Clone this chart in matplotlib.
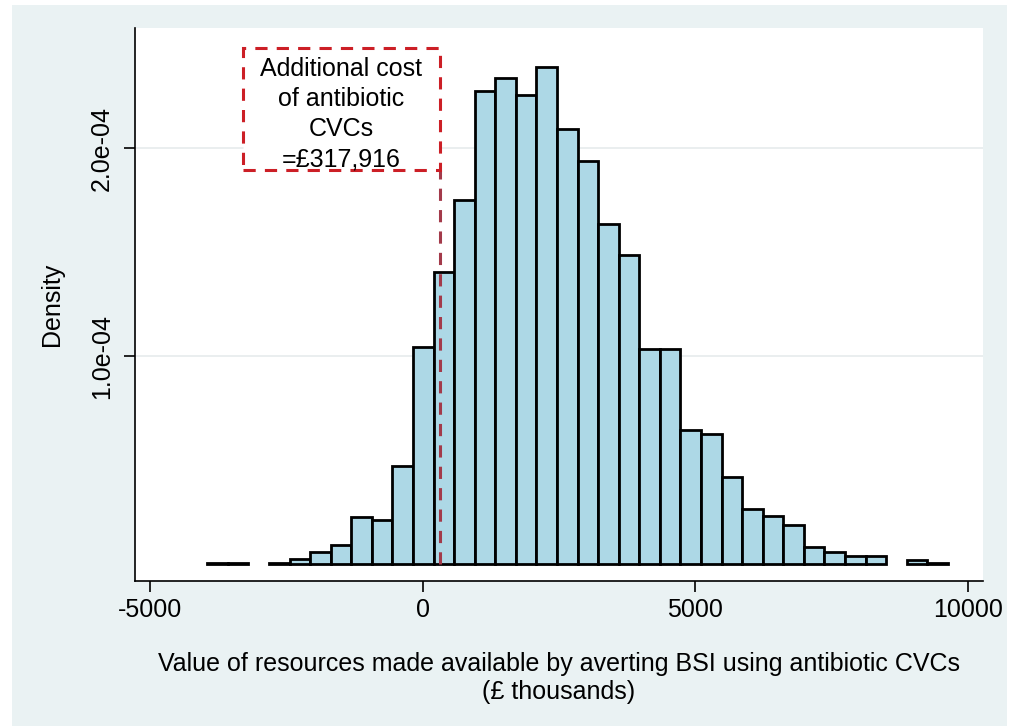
import numpy as np
import matplotlib
matplotlib.use('Agg')
import matplotlib.pyplot as plt
from matplotlib.patches import Rectangle

plt.rcParams['font.family'] = ['Liberation Sans', 'DejaVu Sans']

# histogram bins (thousands of pounds) and densities
bin_start = -3944
bin_width = 377
density = [0.003, 0.006, 0.0, 0.004, 0.023, 0.057, 0.092, 0.224, 0.211, 0.470,
           1.045, 1.407, 1.754, 2.277, 2.338, 2.258, 2.391, 2.095, 1.942, 1.638,
           1.485, 1.037, 1.037, 0.646, 0.628, 0.417, 0.264, 0.233, 0.186, 0.080,
           0.057, 0.036, 0.040, 0.0, 0.017, 0.006]
density = np.array(density) * 1e-4

extra_cost = 317.916  # £ thousands
box_text = 'Additional cost\nof antibiotic\nCVCs\n=£317,916'

xticks = [-5000, 0, 5000, 10000]
yticks = [1e-4, 2e-4]
ytick_labels = ['1.0e-04', '2.0e-04']

fig = plt.figure(figsize=(10.15, 7.26), dpi=100, facecolor='white')
# stata style graph region
fig.patches.append(Rectangle((12 / 1015, 0), 995 / 1015, 721 / 726,
                             transform=fig.transFigure, facecolor='#EAF2F3',
                             edgecolor='none', zorder=-10))
ax = fig.add_axes([135 / 1015, 145 / 726, 848 / 1015, 553 / 726])
ax.set_facecolor('white')

left_edges = bin_start + bin_width * np.arange(len(density))
keep = density > 0
ax.bar(left_edges[keep], density[keep], width=bin_width, align='edge',
       color='#ADD8E6', edgecolor='black', linewidth=2.0, zorder=2)

ax.set_xlim(-5269, 10271)
ax.set_ylim(-0.082e-4, 2.58e-4)

for y in yticks:
    ax.axhline(y, color='#E6EBEC', linewidth=1.2, zorder=1)

# red dashed box with the added cost
ax.vlines(extra_cost, 0, 1.895e-4, colors='#A33A4A', linestyles=(0, (4, 3)),
          linewidth=2.2, zorder=3)
bx0 = -3289
ax.add_patch(Rectangle((bx0, 1.895e-4), extra_cost - bx0, 0.588e-4,
                       facecolor='white', edgecolor='#CC1F26',
                       linestyle=(0, (4, 3)), linewidth=2.2, zorder=4))
ax.text((bx0 + extra_cost) / 2, 2.165e-4, box_text, ha='center', va='center',
        fontsize=18, linespacing=1.33, zorder=5)

ax.spines['top'].set_visible(False)
ax.spines['right'].set_visible(False)
ax.spines['left'].set_linewidth(1.2)
ax.spines['bottom'].set_linewidth(1.2)

ax.set_xticks(xticks)
ax.set_xticklabels([str(t) for t in xticks])
ax.set_yticks(yticks)
ax.set_yticklabels(ytick_labels, rotation=90, va='center')
ax.tick_params(axis='both', length=8, width=1.2, labelsize=18)
ax.tick_params(axis='x', pad=4)
ax.tick_params(axis='y', pad=7)

ax.set_xlabel('Value of resources made available by averting BSI using antibiotic CVCs\n(£ thousands)',
              fontsize=18, labelpad=22, linespacing=1.18)
ax.set_ylabel('Density', fontsize=18, labelpad=19)

fig.savefig('out.png', dpi=100, facecolor='white')
